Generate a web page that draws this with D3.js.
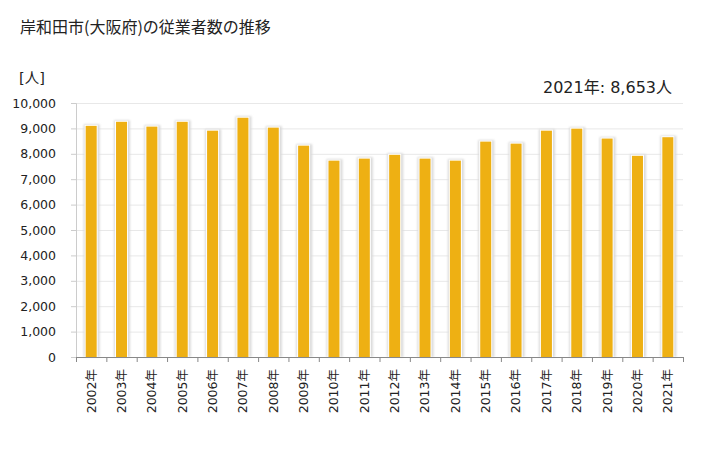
<!DOCTYPE html>
<html>
<head>
<meta charset="utf-8">
<script src="https://cdn.jsdelivr.net/npm/d3@7"></script>
<style>
  body { margin: 0; background: #fff; }
  text { font-family: "DejaVu Sans", "Noto Sans CJK JP", sans-serif; fill: #222; }
</style>
</head>
<body>
<script>
const years = ["2002","2003","2004","2005","2006","2007","2008","2009","2010","2011",
  "2012","2013","2014","2015","2016","2017","2018","2019","2020","2021"];
const workers = [9100, 9260, 9070, 9260, 8910, 9420, 9030, 8320, 7730, 7810,
  7960, 7810, 7730, 8480, 8400, 8910, 8990, 8600, 7920, 8653];
const yTicks = [0, 1000, 2000, 3000, 4000, 5000, 6000, 7000, 8000, 9000, 10000];

const width = 728, height = 450;
const margin = {left: 76, right: 45, top: 103, bottom: 93};
const labelFont = "'DejaVu Sans', 'Noto Sans CJK JP', sans-serif";

const svg = d3.select("body").append("svg")
  .attr("width", width).attr("height", height);

const defs = svg.append("defs");
defs.append("filter").attr("id", "blur")
  .append("feGaussianBlur").attr("stdDeviation", 1);

const x = d3.scaleBand().domain(years)
  .range([margin.left, width - margin.right]);
const y = d3.scaleLinear().domain([0, 10000])
  .range([height - margin.bottom, margin.top]);

svg.append("text").attr("x", 20).attr("y", 33)
  .style("font-family", "'Noto Sans CJK JP', sans-serif")
  .style("font-size", "16px").text("岸和田市(大阪府)の従業者数の推移");

svg.append("text").attr("x", 19).attr("y", 83)
  .style("font-size", "14.5px").text("[人]");

svg.append("text").attr("x", 672).attr("y", 93)
  .attr("text-anchor", "end")
  .style("font-size", "16px").text("2021年: 8,653人");

// grid
svg.append("g").selectAll("line").data(yTicks).join("line")
  .attr("x1", margin.left).attr("x2", width - margin.right)
  .attr("y1", d => y(d) + 0.5).attr("y2", d => y(d) + 0.5)
  .attr("stroke", "#e8e8e8");

const barW = 11;
const bars = svg.append("g").selectAll("g").data(years).join("g");
bars.append("rect")
  .attr("x", d => x(d) + x.bandwidth() / 2 - barW / 2 - 2)
  .attr("y", (d, i) => y(workers[i]) - 1.5)
  .attr("width", barW + 5)
  .attr("height", (d, i) => y(0) - y(workers[i]) + 1.5)
  .attr("fill", "#d9d9d9")
  .attr("filter", "url(#blur)");
bars.append("rect")
  .attr("x", d => x(d) + x.bandwidth() / 2 - barW / 2 - 1)
  .attr("y", (d, i) => y(workers[i]) - 1)
  .attr("width", barW + 2)
  .attr("height", (d, i) => y(0) - y(workers[i]) + 1)
  .attr("fill", "#fff");
bars.append("rect")
  .attr("x", d => x(d) + x.bandwidth() / 2 - barW / 2)
  .attr("y", (d, i) => y(workers[i]))
  .attr("width", barW)
  .attr("height", (d, i) => y(0) - y(workers[i]))
  .attr("fill", "#eeb013");

// y axis
const yAxis = svg.append("g")
  .attr("transform", `translate(${margin.left},0)`)
  .call(d3.axisLeft(y).tickValues(yTicks).tickSize(5).tickFormat(d3.format(",")));
yAxis.select(".domain").attr("stroke", "#ccc");
yAxis.selectAll(".tick line").attr("stroke", "#ccc");
yAxis.selectAll(".tick text").attr("x", -20)
  .style("font-size", "12.5px").style("font-family", labelFont).attr("fill", "#222");

// x axis
const xAxis = svg.append("g")
  .attr("transform", `translate(0,${y(0)})`)
  .call(d3.axisBottom(x).tickSize(0).tickFormat(d => d + "年"));
xAxis.select(".domain").attr("stroke", "#888");
xAxis.selectAll(".tick text")
  .attr("transform", "rotate(-90)")
  .attr("text-anchor", "end")
  .attr("x", -12).attr("y", 0).attr("dy", "0.35em")
  .style("font-size", "12.5px").style("font-family", labelFont).attr("fill", "#222");
xAxis.selectAll(".edge").data(d3.range(years.length + 1)).join("line")
  .attr("class", "edge")
  .attr("x1", i => margin.left + i * x.step() + 0.5)
  .attr("x2", i => margin.left + i * x.step() + 0.5)
  .attr("y1", 0).attr("y2", 5)
  .attr("stroke", "#888");
</script>
</body>
</html>
